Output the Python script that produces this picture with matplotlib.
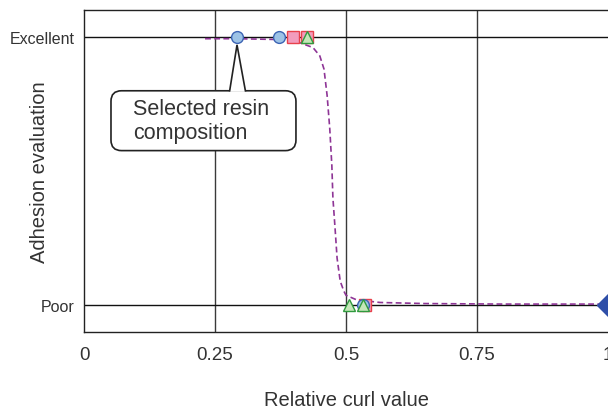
import matplotlib
matplotlib.use("Agg")
import matplotlib.pyplot as plt
from matplotlib.patches import FancyBboxPatch, Polygon

plt.rcParams["font.family"] = ["Liberation Sans", "DejaVu Sans"]

# Rating levels: 1 = Excellent, 0 = Poor
Y_TICKS = [0, 1]
Y_LABELS = ["Poor", "Excellent"]
X_TICKS = [0, 0.25, 0.5, 0.75, 1]
X_LABELS = ["0", "0.25", "0.5", "0.75", "1"]

# Measured points (relative curl, rating)
circle_x = [0.292, 0.372, 0.532]
circle_y = [1, 1, 0]
square_x = [0.399, 0.425, 0.536]
square_y = [1, 1, 0]
triangle_x = [0.425, 0.506, 0.532]
triangle_y = [1, 0, 0]
diamond_x = [1.0]
diamond_y = [0]

# Fitted trend curve
curve_x = [0.231, 0.292, 0.372, 0.412, 0.437, 0.450, 0.458, 0.464, 0.469,
           0.473, 0.475, 0.479, 0.483, 0.489, 0.496, 0.500, 0.520, 0.565,
           0.650, 0.800, 1.0]
curve_y = [0.993, 0.993, 0.990, 0.978, 0.960, 0.929, 0.880, 0.781, 0.658,
           0.520, 0.400, 0.290, 0.175, 0.089, 0.052, 0.037, 0.020, 0.010,
           0.006, 0.004, 0.004]

SELECTED = (0.292, 1)
CALLOUT_TEXT = "Selected resin\ncomposition"

fig = plt.figure(figsize=(6.08, 4.10), dpi=100)
ax = fig.add_axes([84 / 608, 77 / 410, 524 / 608, 322 / 410])

ax.set_xlim(0, 1)
ax.set_ylim(-0.1, 1.1)

for xv in [0.25, 0.5, 0.75]:
    ax.axvline(xv, color="#3a3a3a", lw=1.0, zorder=0)
for yv in Y_TICKS:
    ax.axhline(yv, color="#111111", lw=1.0, zorder=0)

ax.plot(curve_x, curve_y, color="#8e3596", lw=1.2, ls=(0, (3.5, 2)), zorder=2)

ax.plot(square_x, square_y, ls="none", marker="s", ms=8.5, mfc="#f29cbd",
        mec="#e8414c", mew=1.0, zorder=3)
ax.plot(circle_x, circle_y, ls="none", marker="o", ms=8.5, mfc="#9dc3e6",
        mec="#3c64b4", mew=1.0, zorder=4)
ax.plot(triangle_x, triangle_y, ls="none", marker="^", ms=9, mfc="#c5e6b8",
        mec="#2f9a3e", mew=1.0, zorder=5)
ax.plot(diamond_x, diamond_y, ls="none", marker="D", ms=11, mfc="#2f4fa8",
        mec="#2f4fa8", zorder=6, clip_on=False)

# Callout box with a pointer to the selected composition
aspect = 524 / 269
box = FancyBboxPatch((0.0515, 0.576), 0.353, 0.223,
                     boxstyle="round,pad=0,rounding_size=0.02",
                     mutation_aspect=aspect, fc="white", ec="#222222",
                     lw=1.2, zorder=7)
ax.add_patch(box)
tip = (SELECTED[0], SELECTED[1] - 0.03)
pointer_fill = Polygon([(0.278, 0.795), tip, (0.308, 0.795)], closed=True,
                       fc="white", ec="none", zorder=8)
ax.add_patch(pointer_fill)
ax.plot([0.278, tip[0], 0.308], [0.799, tip[1], 0.799], color="#222222",
        lw=1.2, zorder=9, solid_joinstyle="miter")
ax.text(0.0935, 0.688, CALLOUT_TEXT, fontsize=15.5, color="#333333",
        ha="left", va="center", linespacing=1.2, zorder=10)

ax.set_xticks(X_TICKS)
ax.set_xticklabels(X_LABELS, fontsize=13.5, color="#333333")
ax.set_yticks(Y_TICKS)
ax.set_yticklabels(Y_LABELS, fontsize=11.5, color="#333333")
ax.tick_params(axis="x", length=0, pad=10)
ax.tick_params(axis="y", length=0, pad=6.5)

ax.set_xlabel("Relative curl value", fontsize=14.5, color="#333333")
ax.set_ylabel("Adhesion evaluation", fontsize=14.5, color="#333333")
ax.xaxis.set_label_coords(0.5, -0.18)
ax.yaxis.set_label_coords(-0.066, 0.5)

for s in ["left", "top", "bottom"]:
    ax.spines[s].set_color("#222222")
    ax.spines[s].set_linewidth(1.0)
ax.spines["right"].set_visible(False)

fig.savefig("out.png", dpi=100)
